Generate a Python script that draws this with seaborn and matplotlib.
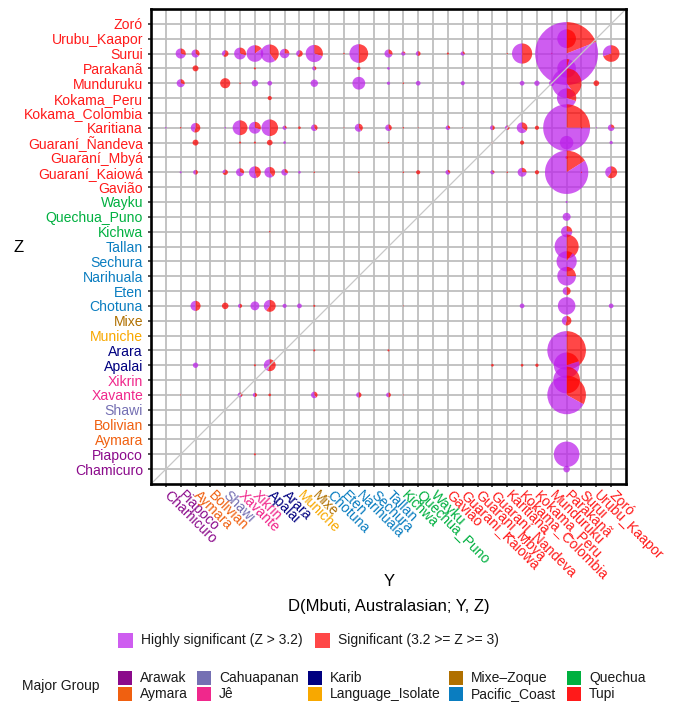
import matplotlib
matplotlib.use("Agg")
import matplotlib.pyplot as plt
from matplotlib.patches import Wedge, Rectangle
import seaborn as sns

# ---------------- data ----------------
levels = ['Chamicuro', 'Piapoco', 'Aymara', 'Bolivian', 'Shawi', 'Xavante', 'Xikrin',
          'Apalai', 'Arara', 'Muniche', 'Mixe', 'Chotuna', 'Eten', 'Narihuala', 'Sechura',
          'Tallan', 'Kichwa', 'Quechua_Puno', 'Wayku', 'Gavião', 'Guaraní_Kaiowá',
          'Guaraní_Mbyá', 'Guaraní_Ñandeva', 'Karitiana', 'Kokama_Colombia', 'Kokama_Peru',
          'Munduruku', 'Parakanã', 'Surui', 'Urubu_Kaapor', 'Zoró']
level_group = ['Arawak', 'Arawak', 'Aymara', 'Aymara', 'Cahuapanan', 'Jê', 'Jê',
               'Karib', 'Karib', 'Language_Isolate', 'Mixe–Zoque', 'Pacific_Coast',
               'Pacific_Coast', 'Pacific_Coast', 'Pacific_Coast', 'Pacific_Coast',
               'Quechua', 'Quechua', 'Quechua'] + ['Tupi'] * 12
group_names = ['Arawak', 'Aymara', 'Cahuapanan', 'Jê', 'Karib', 'Language_Isolate',
               'Mixe–Zoque', 'Pacific_Coast', 'Quechua', 'Tupi']
group_colors = ['#8B0A8B', '#F06010', '#7570B3', '#F0288C', '#000080', '#F8A800',
                '#B07000', '#0A7DC0', '#00B040', '#FF1A1A']

sig_labels = ['Highly significant (Z > 3.2)', 'Significant (3.2 >= Z >= 3)']
sig_colors = ['#BC1FEB', '#FF0000']

# one pie per (Y, Z) pair: radius (cell units) and share of "Significant" tests
pie_y = [
    # Z = Surui
    'Piapoco', 'Aymara', 'Shawi', 'Xavante', 'Xikrin', 'Apalai', 'Arara', 'Muniche', 'Mixe',
    'Eten', 'Narihuala', 'Tallan', 'Kichwa', 'Quechua_Puno', 'Gavião', 'Guaraní_Kaiowá',
    'Karitiana', 'Kokama_Colombia', 'Munduruku', 'Parakanã', 'Zoró',
    # Urubu_Kaapor
    'Parakanã',
    # Parakanã
    'Aymara', 'Xikrin', 'Mixe', 'Narihuala', 'Tallan', 'Parakanã',
    # Munduruku
    'Piapoco', 'Shawi', 'Xavante', 'Xikrin', 'Apalai', 'Mixe', 'Narihuala', 'Tallan', 'Kichwa',
    'Quechua_Puno', 'Guaraní_Kaiowá', 'Kokama_Colombia', 'Kokama_Peru', 'Munduruku',
    'Parakanã', 'Urubu_Kaapor',
    # Kokama_Peru
    'Apalai', 'Parakanã',
    # Karitiana
    'Chamicuro', 'Piapoco', 'Aymara', 'Shawi', 'Xavante', 'Xikrin', 'Apalai', 'Arara',
    'Muniche', 'Mixe', 'Eten', 'Narihuala', 'Tallan', 'Kichwa', 'Quechua_Puno', 'Gavião',
    'Guaraní_Kaiowá', 'Guaraní_Ñandeva', 'Karitiana', 'Kokama_Colombia', 'Kokama_Peru',
    'Parakanã', 'Surui', 'Urubu_Kaapor', 'Zoró',
    # Guaraní_Ñandeva
    'Aymara', 'Xavante', 'Xikrin', 'Apalai', 'Arara', 'Tallan', 'Guaraní_Ñandeva',
    'Kokama_Colombia', 'Parakanã', 'Zoró',
    # Guaraní_Mbyá
    'Parakanã',
    # Guaraní_Kaiowá
    'Piapoco', 'Aymara', 'Shawi', 'Xavante', 'Xikrin', 'Apalai', 'Arara', 'Muniche', 'Mixe',
    'Narihuala', 'Kichwa', 'Quechua_Puno', 'Gavião', 'Guaraní_Ñandeva', 'Karitiana',
    'Kokama_Colombia', 'Kokama_Peru', 'Parakanã', 'Surui', 'Zoró',
    # Wayku, Quechua_Puno, Kichwa, Tallan, Sechura, Narihuala, Eten
    'Parakanã', 'Parakanã', 'Apalai', 'Parakanã', 'Parakanã', 'Parakanã', 'Parakanã',
    'Parakanã',
    # Chotuna
    'Aymara', 'Shawi', 'Xavante', 'Xikrin', 'Apalai', 'Arara', 'Muniche', 'Mixe', 'Kichwa',
    'Kokama_Colombia', 'Parakanã', 'Zoró',
    # Mixe, Muniche
    'Parakanã', 'Parakanã',
    # Arara
    'Mixe', 'Tallan', 'Parakanã',
    # Apalai
    'Aymara', 'Xikrin', 'Apalai', 'Guaraní_Ñandeva', 'Kokama_Colombia', 'Kokama_Peru',
    'Parakanã',
    # Xikrin
    'Parakanã',
    # Xavante
    'Piapoco', 'Xavante', 'Xikrin', 'Apalai', 'Mixe', 'Narihuala', 'Tallan', 'Kichwa',
    'Parakanã',
    # Piapoco, Chamicuro
    'Xikrin', 'Parakanã', 'Parakanã',
]
pie_z = (['Surui'] * 21 + ['Urubu_Kaapor'] + ['Parakanã'] * 6 + ['Munduruku'] * 16 +
         ['Kokama_Peru'] * 2 + ['Karitiana'] * 25 + ['Guaraní_Ñandeva'] * 10 +
         ['Guaraní_Mbyá'] + ['Guaraní_Kaiowá'] * 20 +
         ['Wayku', 'Quechua_Puno', 'Kichwa', 'Kichwa', 'Tallan', 'Sechura', 'Narihuala', 'Eten'] +
         ['Chotuna'] * 12 + ['Mixe', 'Muniche'] + ['Arara'] * 3 + ['Apalai'] * 7 +
         ['Xikrin'] + ['Xavante'] * 9 + ['Piapoco', 'Piapoco', 'Chamicuro'])
pie_radius = [
    0.34, 0.27, 0.22, 0.40, 0.56, 0.61, 0.32, 0.22, 0.58, 0.05, 0.63, 0.27, 0.14, 0.16, 0.07,
    0.14, 0.04, 0.68, 0.05, 2.12, 0.56,
    0.63,
    0.20, 0.07, 0.14, 0.11, 0.09, 0.63,
    0.27, 0.34, 0.05, 0.22, 0.16, 0.25, 0.43, 0.11, 0.05, 0.16, 0.14, 0.16, 0.18, 0.18, 1.00,
    0.19,
    0.14, 0.65,
    0.05, 0.05, 0.32, 0.05, 0.50, 0.40, 0.56, 0.14, 0.09, 0.22, 0.03, 0.27, 0.22, 0.05, 0.03,
    0.15, 0.03, 0.16, 0.15, 0.36, 0.14, 1.58, 0.05, 0.04, 0.22,
    0.20, 0.07, 0.07, 0.19, 0.09, 0.05, 0.05, 0.14, 0.45, 0.11,
    0.09,
    0.07, 0.16, 0.18, 0.27, 0.40, 0.36, 0.22, 0.09, 0.05, 0.05, 0.05, 0.14, 0.16, 0.14, 0.05,
    0.30, 0.14, 1.46, 0.04, 0.40,
    0.07, 0.27, 0.05, 0.38, 0.81, 0.68, 0.63, 0.27,
    0.34, 0.22, 0.14, 0.30, 0.40, 0.14, 0.16, 0.07, 0.03, 0.16, 0.59, 0.16,
    0.32, 0.09,
    0.07, 0.07, 1.30,
    0.18, 0.07, 0.40, 0.09, 0.09, 0.11, 0.86,
    0.90,
    0.03, 0.16, 0.14, 0.09, 0.22, 0.18, 0.16, 0.03, 1.30,
    0.07, 0.86, 0.22,
]
pie_share = [
    0.30, 0.35, 0.60, 0.30, 0.15, 0.40, 0.25, 0.60, 0.30, 1.00, 0.50, 0.30, 0.20, 0.50, 1.00,
    0.30, 1.00, 0.50, 1.00, 0.19, 0.70,
    0.50,
    1.00, 1.00, 0.40, 1.00, 0.00, 0.05,
    0.30, 1.00, 1.00, 0.00, 0.00, 0.00, 0.00, 0.00, 1.00, 0.00, 0.00, 0.00, 0.00, 0.00, 0.40,
    1.00,
    1.00, 0.30,
    0.00, 1.00, 0.55, 0.00, 0.50, 0.30, 0.50, 0.30, 1.00, 0.40, 1.00, 0.40, 0.40, 1.00, 1.00,
    0.30, 1.00, 0.50, 0.50, 0.35, 1.00, 0.25, 1.00, 0.00, 0.25,
    1.00, 1.00, 1.00, 1.00, 0.00, 1.00, 1.00, 1.00, 0.00, 0.00,
    1.00,
    0.00, 0.50, 0.70, 0.30, 0.45, 0.40, 0.30, 0.00, 1.00, 1.00, 1.00, 1.00, 0.30, 0.30, 1.00,
    0.25, 1.00, 0.16, 1.00, 0.60,
    0.00, 0.00, 1.00, 0.25, 0.50, 0.10, 0.25, 0.50,
    0.50, 1.00, 0.50, 0.00, 0.60, 0.00, 0.00, 1.00, 1.00, 0.00, 0.00, 0.00,
    0.55, 0.00,
    1.00, 1.00, 0.50,
    0.00, 1.00, 0.55, 1.00, 1.00, 1.00, 0.20,
    0.50,
    1.00, 0.40, 0.50, 1.00, 0.40, 0.50, 0.50, 1.00, 0.33,
    1.00, 0.00, 0.00,
]

# ---------------- figure ----------------
sns.set_theme(style="white")
plt.rcParams['font.family'] = ['Liberation Sans', 'DejaVu Sans']

W, H = 675, 703
fig = plt.figure(figsize=(W / 100, H / 100), dpi=100)


def fx(px):
    return px / W


def fy(py):
    return 1 - py / H


ax = fig.add_axes([fx(151), fy(484), 475 / W, 475 / H])
pos = {name: i + 1 for i, name in enumerate(levels)}
col_of = dict(zip(group_names, group_colors))
alpha = 0.72

ax.set_xlim(0, 32)
ax.set_ylim(0, 32)
ticks = list(range(1, len(levels) + 1))
ax.set_xticks(ticks)
ax.set_yticks(ticks)
ax.grid(True, color='#BEBEBE', linewidth=1.3)
ax.set_axisbelow(True)

# pies
for yname, zname, r, share in zip(pie_y, pie_z, pie_radius, pie_share):
    cx, cy = pos[yname], pos[zname]
    cut = 90 - 360 * share
    if share > 0:
        ax.add_patch(Wedge((cx, cy), r, cut, 90, facecolor=sig_colors[1], alpha=alpha,
                           linewidth=0, zorder=3))
    if share < 1:
        ax.add_patch(Wedge((cx, cy), r, -270, cut, facecolor=sig_colors[0], alpha=alpha,
                           linewidth=0, zorder=3))

# diagonal reference line
sns.lineplot(x=[0, 32], y=[0, 32], ax=ax, color='#C8C8C8', linewidth=0.9, zorder=5)

for s in ax.spines.values():
    s.set_visible(True)
    s.set_color('black')
    s.set_linewidth(1.9)
    s.set_zorder(6)

ax.tick_params(axis='both', which='major', bottom=True, left=True, length=2.2, width=1.2,
               color='#333333', direction='out')
ax.tick_params(axis='y', pad=3.5)
ax.tick_params(axis='x', pad=4.2)
ax.set_xticklabels(levels, rotation=-45, ha='left', va='center', rotation_mode='anchor',
                   fontsize=10.1)
ax.set_yticklabels(levels, fontsize=10.1)
for lab, g in zip(ax.get_xticklabels(), level_group):
    lab.set_color(col_of[g])
for lab, g in zip(ax.get_yticklabels(), level_group):
    lab.set_color(col_of[g])
ax.set_xlabel('')
ax.set_ylabel('')

# axis titles
fig.text(fx(19), fy(247), 'Z', fontsize=12, ha='center', va='center', color='black')
fig.text(fx(389), fy(582), 'Y', fontsize=12, ha='center', va='center', color='black')
fig.text(fx(389), fy(607), 'D(Mbuti, Australasian; Y, Z)', fontsize=12, ha='center',
         va='center', color='black')


def key(x, yc, color, label, size=14, a=1.0):
    fig.add_artist(Rectangle((fx(x), fy(yc + size / 2)), size / W, size / H,
                             transform=fig.transFigure, facecolor=color, edgecolor='none',
                             alpha=a))
    fig.text(fx(x + size + 8), fy(yc), label, fontsize=10, ha='left', va='center',
             color='#1A1A1A')


# significance legend
key(118, 640, sig_colors[0], sig_labels[0], size=15, a=alpha)
key(315, 640, sig_colors[1], sig_labels[1], size=15, a=alpha)

# major group legend
fig.text(fx(22), fy(686), 'Major Group', fontsize=10, ha='left', va='center', color='#1A1A1A')
col_x = [118, 197, 308, 449, 567]
for i, (g, c) in enumerate(zip(group_names, group_colors)):
    key(col_x[i // 2], 678 if i % 2 == 0 else 694, c, g, size=14)

fig.savefig('out.png', dpi=100)
